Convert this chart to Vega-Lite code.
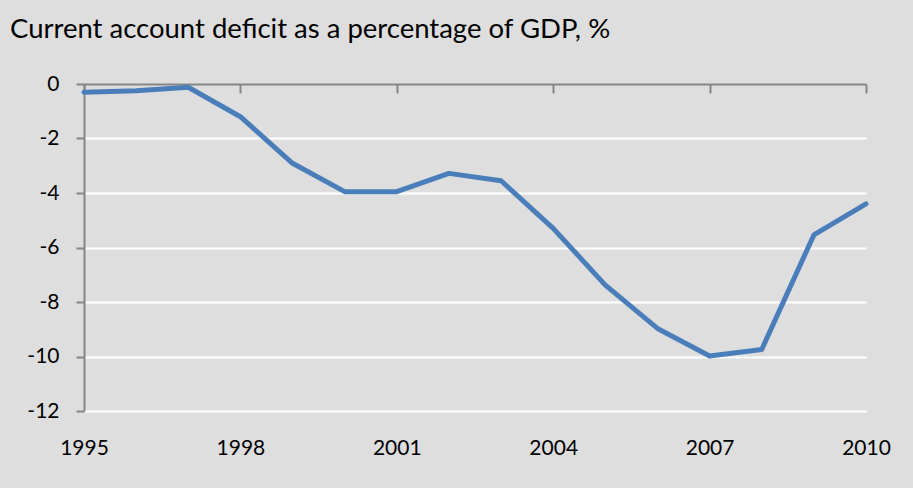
{
  "$schema": "https://vega.github.io/schema/vega-lite/v6.json",
  "width": 782,
  "height": 327,
  "autosize": {"type": "none"},
  "padding": {"left": 84, "top": 84, "right": 47, "bottom": 77},
  "background": "#dedede",
  "title": {
    "text": "Current account deficit as a percentage of GDP, %",
    "anchor": "start",
    "frame": "group",
    "font": "Lato",
    "fontSize": 27.5,
    "fontWeight": "normal",
    "color": "#000000",
    "dx": -74,
    "offset": 30
  },
  "config": {
    "view": {"stroke": null},
    "axis": {"labelFont": "Lato", "labelFontSize": 21, "labelColor": "#000000", "labelFlush": false}
  },
  "data": {
    "values": [
      {"year": 1995, "value": -0.30},
      {"year": 1996, "value": -0.25},
      {"year": 1997, "value": -0.12},
      {"year": 1998, "value": -1.20},
      {"year": 1999, "value": -2.91},
      {"year": 2000, "value": -3.95},
      {"year": 2001, "value": -3.95},
      {"year": 2002, "value": -3.28},
      {"year": 2003, "value": -3.55},
      {"year": 2004, "value": -5.30},
      {"year": 2005, "value": -7.38},
      {"year": 2006, "value": -8.97},
      {"year": 2007, "value": -9.98},
      {"year": 2008, "value": -9.74},
      {"year": 2009, "value": -5.54},
      {"year": 2010, "value": -4.40}
    ]
  },
  "resolve": {"axis": {"x": "independent"}},
  "layer": [
    {
      "mark": {"type": "point", "opacity": 0},
      "encoding": {
        "x": {
          "field": "year",
          "type": "quantitative",
          "scale": {"domain": [1995, 2010], "nice": false, "zero": false},
          "axis": {
            "orient": "top",
            "title": null,
            "values": [1995, 1998, 2001, 2004, 2007, 2010],
            "labels": false,
            "grid": false,
            "domain": true,
            "domainColor": "#868686",
            "domainWidth": 2,
            "ticks": true,
            "tickColor": "#868686",
            "tickWidth": 2,
            "tickSize": -9
          }
        },
        "y": {
          "field": "value",
          "type": "quantitative",
          "scale": {"domain": [-12, 0], "nice": false, "zero": false},
          "axis": {
            "title": null,
            "values": [-12, -10, -8, -6, -4, -2, 0],
            "labelExpr": "'' + datum.value",
            "domain": true,
            "domainColor": "#868686",
            "domainWidth": 2,
            "ticks": true,
            "tickColor": "#868686",
            "tickWidth": 2,
            "tickSize": 8,
            "labelPadding": 17,
            "grid": true,
            "gridColor": {"condition": {"test": "datum.value === 0", "value": "transparent"}, "value": "#ffffff"},
            "gridWidth": 2
          }
        }
      }
    },
    {
      "mark": {"type": "line", "color": "#4a7ebb", "strokeWidth": 5, "strokeCap": "round", "strokeJoin": "round"},
      "encoding": {
        "x": {
          "field": "year",
          "type": "quantitative",
          "axis": {
            "orient": "bottom",
            "title": null,
            "values": [1995, 1998, 2001, 2004, 2007, 2010],
            "format": "d",
            "domain": false,
            "ticks": false,
            "grid": false,
            "labelPadding": 26
          }
        },
        "y": {"field": "value", "type": "quantitative"}
      }
    }
  ]
}
